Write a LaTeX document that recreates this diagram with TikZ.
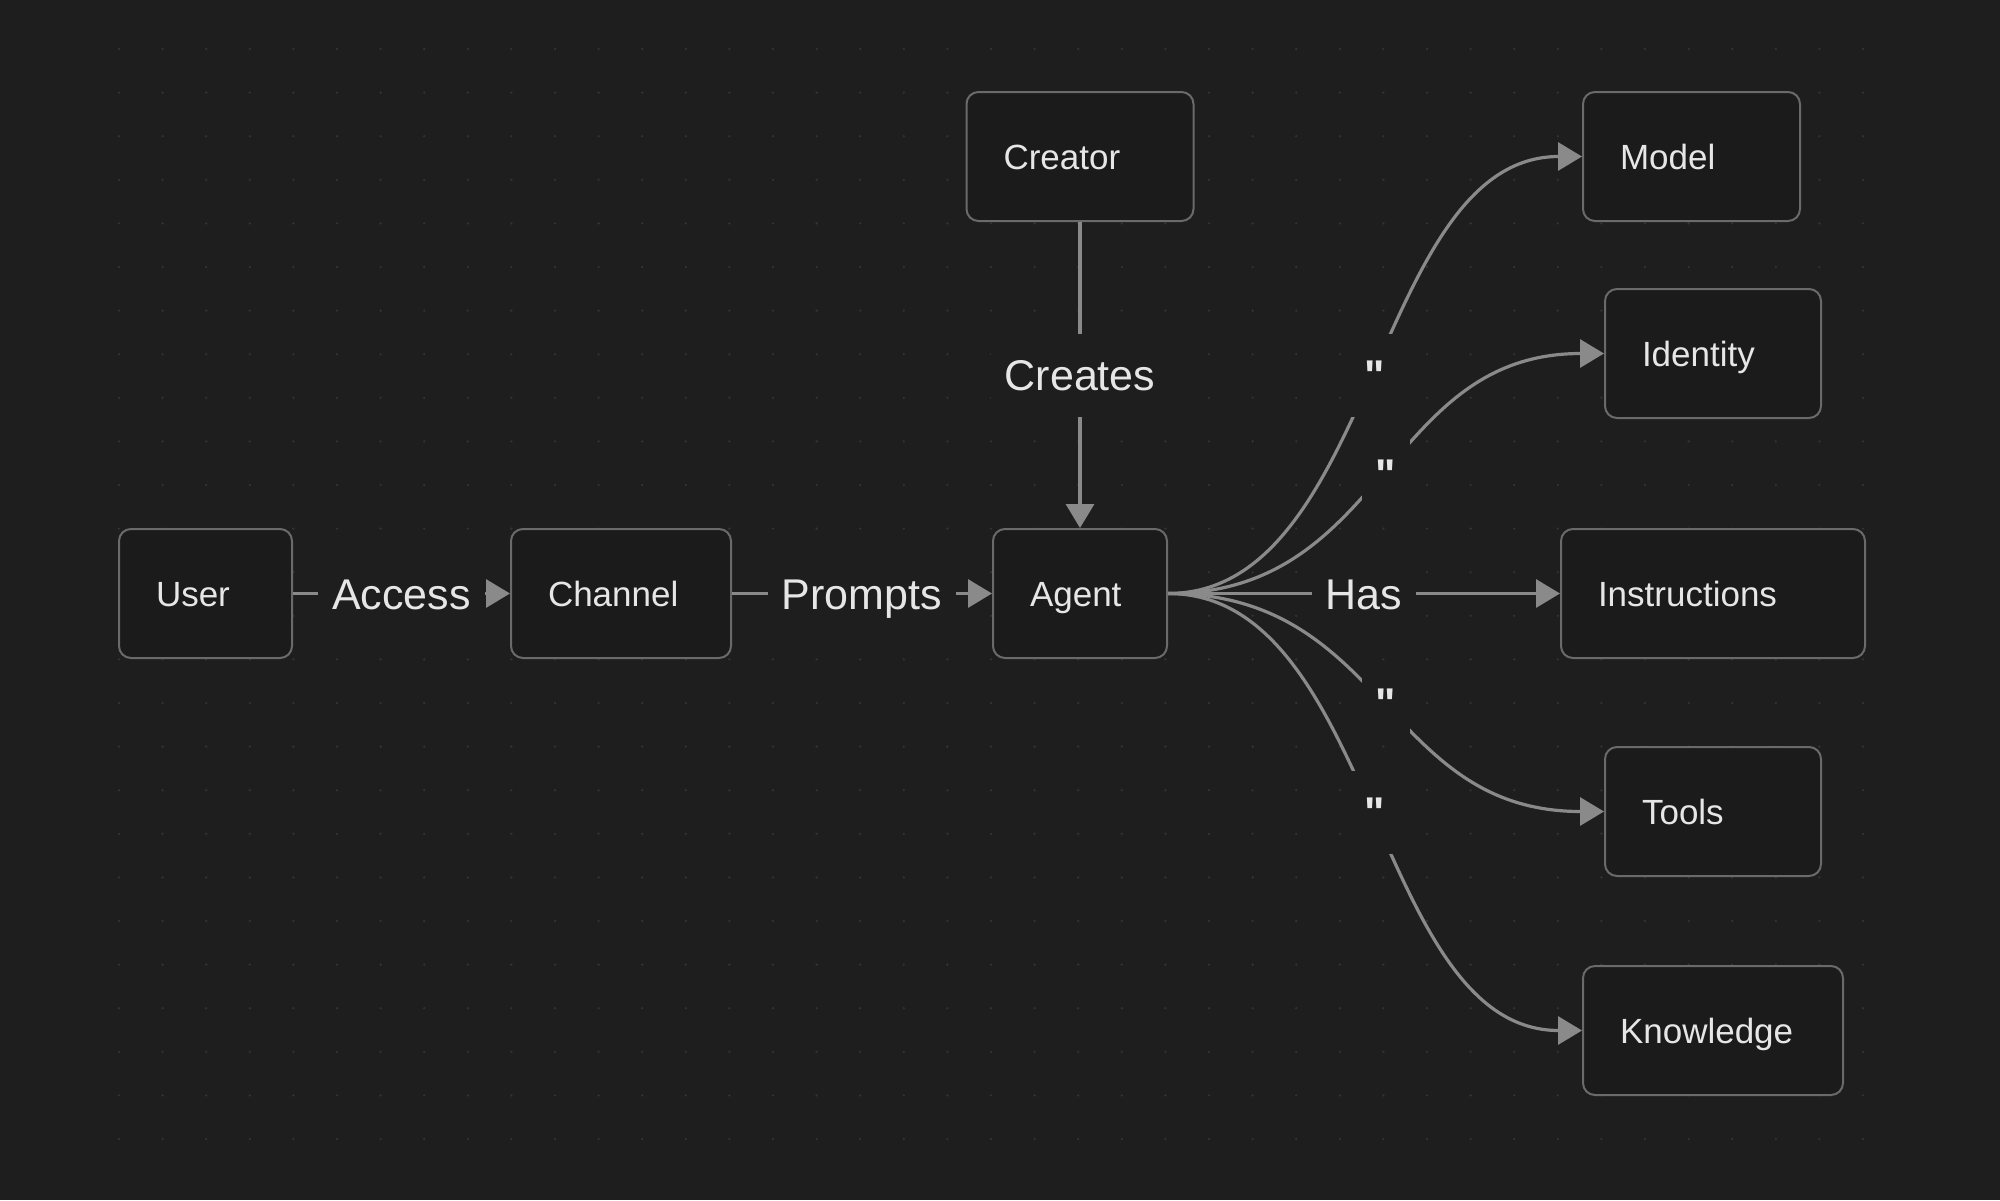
\documentclass[tikz,border=0pt]{standalone}
\usepackage{fontspec}
\setmainfont{Liberation Sans}
\newfontfamily\qfont{Liberation Sans Bold}
\usetikzlibrary{arrows.meta}
\definecolor{bgc}{HTML}{1E1E1E}
\definecolor{dotc}{HTML}{333333}
\definecolor{boxfill}{HTML}{1B1B1B}
\definecolor{boxc}{HTML}{6A6A6A}
\definecolor{edgec}{HTML}{8A8A8A}
\definecolor{txtc}{HTML}{E6E6E6}
\newcommand{\nodefont}{\fontsize{35bp}{42bp}\selectfont}
\newcommand{\lblfont}{\fontsize{43bp}{50bp}\selectfont}
\begin{document}
\begin{tikzpicture}[x=1bp,y=-1bp,
  box/.style={draw=boxc, line width=2bp, fill=boxfill, rounded corners=12bp,
    minimum height=129bp, inner xsep=37bp, inner ysep=0pt, align=left,
    text height=29bp, text depth=4bp, text=txtc, font=\nodefont},
  lbl/.style={fill=bgc, text=txtc, font=\lblfont, inner xsep=14bp, inner ysep=21bp,
    text height=36bp, text depth=5bp},
  qlbl/.style={lbl, font=\lblfont\qfont},
  arr/.style={draw=edgec, line width=3.2bp, -{Triangle[length=24bp,width=28bp]}}]
\fill[bgc] (0,0) rectangle (2000,1200);
\useasboundingbox (0,0) rectangle (2000,1200);
\foreach \i in {0,...,40}{
  \foreach \j in {0,...,25}{
    \fill[dotc] ({119+43.6*\i},{49+43.6*\j}) circle (1.3bp);
  }
}
% nodes
\node[box, text width=99bp]  (user)     at (205.5,593.5) {User};
\node[box, text width=146bp] (channel)  at (621,593.5)   {Channel};
\node[box, text width=100bp] (agent)    at (1080,593.5)  {Agent};
\node[box, text width=153bp] (creator)  at (1080,156.5)  {Creator};
\node[box, text width=143bp] (model)    at (1691.5,156.5){Model};
\node[box, text width=142bp] (identity) at (1713,353.5)  {Identity};
\node[box, text width=230bp] (instr)    at (1713,593.5)  {Instructions};
\node[box, text width=142bp] (tools)    at (1713,811.5)  {Tools};
\node[box, text width=186bp] (know)     at (1713,1030.5) {Knowledge};
% edges
\draw[arr] (user.east) -- node[lbl]{Access} (channel.west);
\draw[arr] (channel.east) -- node[lbl]{Prompts} (agent.west);
\draw[arr] (creator.south) -- node[lbl]{Creates} (agent.north);
\draw[arr] (agent.east) .. controls +(208,0) and +(-208,0) .. node[qlbl]{"} (model.west);
\draw[arr] (agent.east) .. controls +(219,0) and +(-219,0) .. node[qlbl]{"} (identity.west);
\draw[arr] (agent.east) .. controls +(219,0) and +(-219,0) .. node[qlbl]{"} (tools.west);
\draw[arr] (agent.east) .. controls +(208,0) and +(-208,0) .. node[qlbl]{"} (know.west);
\draw[arr] (agent.east) -- node[lbl]{Has} (instr.west);
\end{tikzpicture}
\end{document}
